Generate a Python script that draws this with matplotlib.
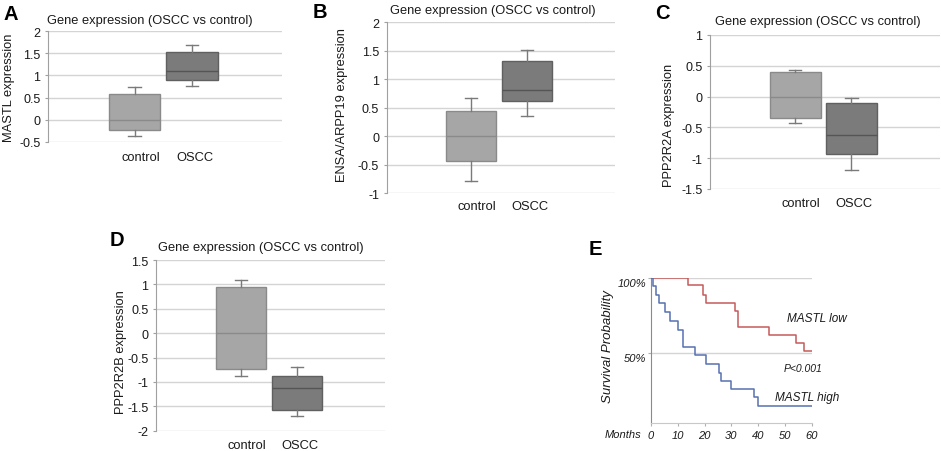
import matplotlib
matplotlib.use("Agg")
import matplotlib.pyplot as plt
from matplotlib.ticker import FuncFormatter

plt.rcParams['font.family'] = ['Liberation Sans', 'DejaVu Sans']

# ---------------- data ----------------
groups = ["control", "OSCC"]
# stats order: whisker low, Q1, median, Q3, whisker high
mastl_control = [-0.38, -0.23, 0.0, 0.58, 0.75]
mastl_oscc = [0.754, 0.905, 1.11, 1.54, 1.69]
ensa_control = [-0.789, -0.439, 0.0, 0.45, 0.667]
ensa_oscc = [0.351, 0.614, 0.819, 1.327, 1.515]
pp2a_control = [-0.429, -0.347, 0.0, 0.394, 0.437]
pp2a_oscc = [-1.197, -0.932, -0.629, -0.109, -0.023]
pp2b_control = [-0.886, -0.728, 0.0, 0.953, 1.097]
pp2b_oscc = [-1.70, -1.576, -1.125, -0.886, -0.70]

ticks_A = [-0.5, 0, 0.5, 1, 1.5, 2]
ticks_B = [-1, -0.5, 0, 0.5, 1, 1.5, 2]
ticks_C = [-1.5, -1, -0.5, 0, 0.5, 1]
ticks_D = [-2, -1.5, -1, -0.5, 0, 0.5, 1, 1.5]

low_months = [0, 14, 19.5, 20.5, 31.5, 32.5, 44, 54, 57, 60]
low_surv = [1.0, 0.956, 0.89, 0.835, 0.78, 0.676, 0.62, 0.57, 0.515, 0.515]
high_months = [0, 0.6, 1.9, 3.1, 5.25, 7.25, 10, 12.1, 16.25, 20.4, 25.25,
               26.25, 29.75, 38.5, 40, 60]
high_surv = [1.0, 0.945, 0.89, 0.835, 0.773, 0.714, 0.652, 0.544, 0.487,
             0.432, 0.372, 0.317, 0.262, 0.207, 0.148, 0.148]
month_ticks = [0, 10, 20, 30, 40, 50, 60]
surv_ticks = [0.5, 1.0]
surv_labels = ["50%", "100%"]

# ---------------- layout helpers ----------------
W, H = 941, 452
fig = plt.figure(figsize=(W / 100, H / 100), dpi=100)
fig.patch.set_facecolor("white")


def rect(x0, y0, x1, y1):
    return [x0 / W, 1 - y1 / H, (x1 - x0) / W, (y1 - y0) / H]


def ftext(x, y, s, **kw):
    fig.text(x / W, 1 - y / H, s, **kw)


TXT = "#1a1a1a"
GRID = "#d4d4d4"
SPINE = "#a0a0a0"


def box_panel(r, ctrl, oscc, yticks, ylabel, ylab_x, ylab_y, xpad):
    ax = fig.add_axes(rect(*r))
    stats = []
    for name, v in zip(groups, [ctrl, oscc]):
        stats.append(dict(label=name, whislo=v[0], q1=v[1], med=v[2],
                          q3=v[3], whishi=v[4], fliers=[]))
    positions = [1, 2]
    bp = ax.bxp(stats, positions=positions, widths=0.9, capwidths=0.22,
                patch_artist=True, showfliers=False, zorder=3)
    faces = ["#a6a6a6", "#7b7b7b"]
    edges = ["#8a8a8a", "#606060"]
    for i, b in enumerate(bp["boxes"]):
        b.set_facecolor(faces[i])
        b.set_edgecolor(edges[i])
        b.set_linewidth(1.0)
    for i, m in enumerate(bp["medians"]):
        m.set_color(edges[i] if i == 0 else "#555555")
        m.set_linewidth(1.0)
    for w in bp["whiskers"] + bp["caps"]:
        w.set_color("#7a7a7a")
        w.set_linewidth(1.0)
    ax.set_xlim(-0.52, 3.58)
    ax.set_ylim(yticks[0], yticks[-1])
    ax.set_yticks(yticks)
    ax.yaxis.set_major_formatter(FuncFormatter(lambda v, p: "{:g}".format(v)))
    ax.set_xticks([p + o for p, o in zip(positions, [0.1, 0.05])])
    ax.set_xticklabels(groups)
    ax.grid(axis="y", color=GRID, linewidth=1.0, zorder=0)
    ax.set_axisbelow(True)
    for s in ["top", "right", "bottom"]:
        ax.spines[s].set_visible(False)
    ax.spines["left"].set_color(SPINE)
    ax.tick_params(axis="y", length=2.5, color=SPINE, labelsize=9,
                   labelcolor=TXT, pad=3)
    ax.tick_params(axis="x", length=0, labelsize=9.3, labelcolor=TXT,
                   pad=xpad)
    ax.set_ylabel(ylabel, fontsize=9.3, color=TXT)
    ax.yaxis.set_label_coords(ylab_x, ylab_y)
    return ax


title = "Gene expression (OSCC vs control)"

box_panel((48, 32.3, 282, 142.7), mastl_control, mastl_oscc, ticks_A,
          "MASTL expression", -0.141, 0.5, 6.5)
ftext(149.5, 21, title, fontsize=9.3, color=TXT, ha="center", va="center")
ftext(3, 14, "A", fontsize=14.5, fontweight="bold", ha="left", va="center")

box_panel((386.7, 23.3, 615, 194.3), ensa_control, ensa_oscc, ticks_B,
          "ENSA/ARPP19 expression", -0.168, 0.52, 4.5)
ftext(492.5, 11, title, fontsize=9.3, color=TXT, ha="center", va="center")
ftext(313, 12, "B", fontsize=14.5, fontweight="bold", ha="left", va="center")

box_panel((710, 36, 940, 190), pp2a_control, pp2a_oscc, ticks_C,
          "PPP2R2A expression", -0.152, 0.42, 6)
ftext(818, 22.5, title, fontsize=9.3, color=TXT, ha="center", va="center")
ftext(655, 13.5, "C", fontsize=14.5, fontweight="bold", ha="left", va="center")

box_panel((156, 261, 385, 431.7), pp2b_control, pp2b_oscc, ticks_D,
          "PPP2R2B expression", -0.128, 0.464, 6)
ftext(260.8, 247.5, title, fontsize=9.3, color=TXT, ha="center", va="center")
ftext(110, 241, "D", fontsize=14.5, fontweight="bold", ha="left", va="center")

# ---------------- panel E ----------------
axE = fig.add_axes(rect(651, 279, 811.7, 424.3))
axE.step(low_months, low_surv, where="post", color="#c65a5a", linewidth=1.1,
         zorder=3)
axE.step(high_months, high_surv, where="post", color="#5670b0", linewidth=1.1,
         zorder=3)
axE.set_xlim(0, 60)
axE.set_ylim(0.035, 1.0)
axE.set_xticks(month_ticks)
axE.set_yticks(surv_ticks)
axE.set_yticklabels(surv_labels, fontstyle="italic")
for lab in axE.get_yticklabels():
    lab.set_verticalalignment("top")
axE.set_xticklabels([str(m) for m in month_ticks], fontstyle="italic")
axE.grid(axis="y", color=GRID, linewidth=1.0, zorder=0)
for s in ["top", "right"]:
    axE.spines[s].set_visible(False)
axE.spines["left"].set_color("#8a8a8a")
axE.spines["bottom"].set_color("#c8c8c8")
axE.tick_params(axis="x", length=2.5, color="#b0b0b0", labelsize=8,
                labelcolor=TXT, pad=2)
axE.tick_params(axis="y", length=2, color="#b0b0b0", labelsize=8,
                labelcolor=TXT, pad=1.5)
axE.set_ylabel("Survival Probability", fontsize=9.5, fontstyle="italic",
               color=TXT)
axE.yaxis.set_label_coords(-0.23, 0.534)

ftext(641.7, 435, "Months", fontsize=8, fontstyle="italic", color=TXT,
      ha="right", va="center")
ftext(787, 319, "MASTL low", fontsize=8.5, fontstyle="italic", color=TXT,
      ha="left", va="center")
ftext(784, 369, "P<0.001", fontsize=7.5, fontstyle="italic", color=TXT,
      ha="left", va="center")
ftext(775, 398, "MASTL high", fontsize=8.5, fontstyle="italic", color=TXT,
      ha="left", va="center")
ftext(589, 250, "E", fontsize=14.5, fontweight="bold", ha="left", va="center")

fig.savefig("out.png", dpi=100, facecolor="white")
